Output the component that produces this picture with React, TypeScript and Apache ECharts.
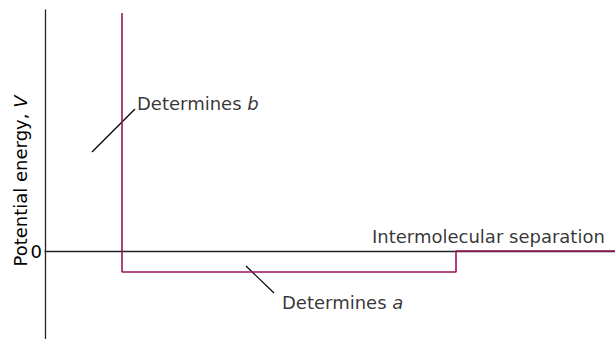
import React, { useEffect, useRef } from "react";
import * as echarts from "echarts";

// Arbitrary units: separation r, potential V
const wellX = [77, 77, 411, 411, 570];
const wellV = [238, -21, -21, 0, 0];
const annotBX = [47, 90];
const annotBV = [99, 142];
const annotAX = [201, 229];
const annotAV = [-15, -42];
const labelB = { x: 92, v: 148, text: "Determines ", italic: "b" };
const labelA = { x: 237, v: -51, text: "Determines ", italic: "a" };
const labelX = { x: 327, v: 15, text: "Intermolecular separation" };
const yTicks = [0];

const PURPLE = "#9c1459";
const INK = "#000000";
const FONT = "DejaVu Sans";
const FS = 18;

export default function App() {
  const ref = useRef<HTMLDivElement>(null);
  useEffect(() => {
    const chart = echarts.init(ref.current!, null, { renderer: "svg" });
    const rich = {
      n: { fontFamily: FONT, fontSize: FS, color: INK },
      i: { fontFamily: FONT, fontSize: FS, color: INK, fontStyle: "italic" },
    };
    const textSeries = (l: any, fmt: string) => ({
      type: "scatter",
      symbolSize: 0,
      silent: true,
      data: [[l.x, l.v]],
      label: {
        show: true,
        position: "right",
        distance: 0,
        color: INK,
        formatter: fmt,
        rich,
      },
    });
    chart.setOption({
      animation: false,
      grid: { left: 45, right: 0, top: 10, bottom: 0 },
      xAxis: {
        type: "value",
        min: 0,
        max: 570,
        axisLine: { show: true, onZero: true, lineStyle: { color: "#222", width: 1.3 } },
        axisTick: { show: false },
        axisLabel: { show: false },
        splitLine: { show: false },
      },
      yAxis: {
        type: "value",
        min: -88,
        max: 241,
        axisLine: { show: true, lineStyle: { color: "#222", width: 1.3 } },
        axisTick: { show: false },
        splitLine: { show: false },
        axisLabel: {
          show: true,
          customValues: yTicks,
          margin: 3,
          fontFamily: FONT,
          fontSize: FS,
          color: INK,
          formatter: (v: number) => String(v),
        },
      },
      graphic: [
        {
          type: "text",
          x: 20,
          y: 181,
          rotation: Math.PI / 2,
          style: {
            text: "{n|Potential energy, }{i|V}",
            rich,
            fill: INK,
            align: "center",
            verticalAlign: "middle",
          },
        },
      ],
      series: [
        {
          type: "line",
          data: wellX.map((x, k) => [x, wellV[k]]),
          symbol: "none",
          lineStyle: { color: PURPLE, width: 1.6 },
          z: 5,
        },
        {
          type: "line",
          data: annotBX.map((x, k) => [x, annotBV[k]]),
          symbol: "none",
          lineStyle: { color: INK, width: 1.2 },
        },
        {
          type: "line",
          data: annotAX.map((x, k) => [x, annotAV[k]]),
          symbol: "none",
          lineStyle: { color: INK, width: 1.2 },
        },
        textSeries(labelB, `{n|${labelB.text}}{i|${labelB.italic}}`),
        textSeries(labelA, `{n|${labelA.text}}{i|${labelA.italic}}`),
        textSeries(labelX, `{n|${labelX.text}}`),
      ],
    });
    return () => chart.dispose();
  }, []);
  return (
    <div
      ref={ref}
      style={{ position: "absolute", left: 0, top: 0, width: 615, height: 339, background: "#fff" }}
    />
  );
}
